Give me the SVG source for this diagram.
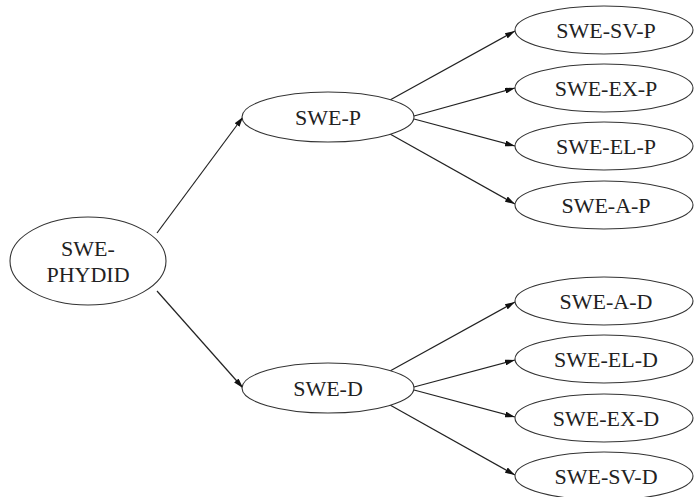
<svg xmlns="http://www.w3.org/2000/svg" width="694" height="497" viewBox="0 0 694 497">
<style>
.n{fill:#fff;stroke:#333;stroke-width:1.1}
.t{font-family:'Liberation Serif','DejaVu Serif',serif;font-size:22px;fill:#222;text-anchor:middle}
.e{stroke:#222;stroke-width:1.2;fill:none;marker-end:url(#a)}
</style>
<defs>
<marker id="a" viewBox="0 0 10 6" refX="10" refY="3" markerWidth="10" markerHeight="6" markerUnits="userSpaceOnUse" orient="auto">
<path d="M0,0L10,3L0,6z" fill="#111"/>
</marker>
</defs>
<rect width="694" height="497" fill="#fff"/>
<g id="edges">
<line class="e" x1="157" y1="233" x2="243" y2="117"/>
<line class="e" x1="157" y1="291" x2="243" y2="388"/>
<line class="e" x1="390" y1="100" x2="515" y2="31"/>
<line class="e" x1="414" y1="116" x2="515" y2="88"/>
<line class="e" x1="414" y1="119" x2="515" y2="146"/>
<line class="e" x1="390" y1="134" x2="515" y2="204"/>
<line class="e" x1="390" y1="371" x2="515" y2="302"/>
<line class="e" x1="414" y1="387" x2="515" y2="360"/>
<line class="e" x1="414" y1="390" x2="515" y2="417"/>
<line class="e" x1="390" y1="405" x2="515" y2="475"/>
</g>
<g id="SWE-PHYDID"><ellipse class="n" cx="88" cy="261" rx="78" ry="44"/><text class="t" x="88" y="256">SWE-</text><text class="t" x="88" y="282">PHYDID</text></g>
<g id="SWE-P"><ellipse class="n" cx="328" cy="117" rx="86" ry="25"/><text class="t" x="328" y="125">SWE-P</text></g>
<g id="SWE-D"><ellipse class="n" cx="328" cy="388" rx="86" ry="25"/><text class="t" x="328" y="396">SWE-D</text></g>
<g id="SWE-SV-P"><ellipse class="n" cx="604" cy="30" rx="89" ry="24"/><text class="t" x="606" y="38">SWE-SV-P</text></g>
<g id="SWE-EX-P"><ellipse class="n" cx="604" cy="88" rx="89" ry="24"/><text class="t" x="606" y="96">SWE-EX-P</text></g>
<g id="SWE-EL-P"><ellipse class="n" cx="604" cy="146" rx="89" ry="24"/><text class="t" x="606" y="154">SWE-EL-P</text></g>
<g id="SWE-A-P"><ellipse class="n" cx="604" cy="205" rx="89" ry="24"/><text class="t" x="606" y="213">SWE-A-P</text></g>
<g id="SWE-A-D"><ellipse class="n" cx="604" cy="301" rx="89" ry="24"/><text class="t" x="606" y="309">SWE-A-D</text></g>
<g id="SWE-EL-D"><ellipse class="n" cx="604" cy="359" rx="89" ry="24"/><text class="t" x="606" y="367">SWE-EL-D</text></g>
<g id="SWE-EX-D"><ellipse class="n" cx="604" cy="418" rx="89" ry="24"/><text class="t" x="606" y="426">SWE-EX-D</text></g>
<g id="SWE-SV-D"><ellipse class="n" cx="604" cy="476" rx="89" ry="24"/><text class="t" x="606" y="484">SWE-SV-D</text></g>
</svg>
